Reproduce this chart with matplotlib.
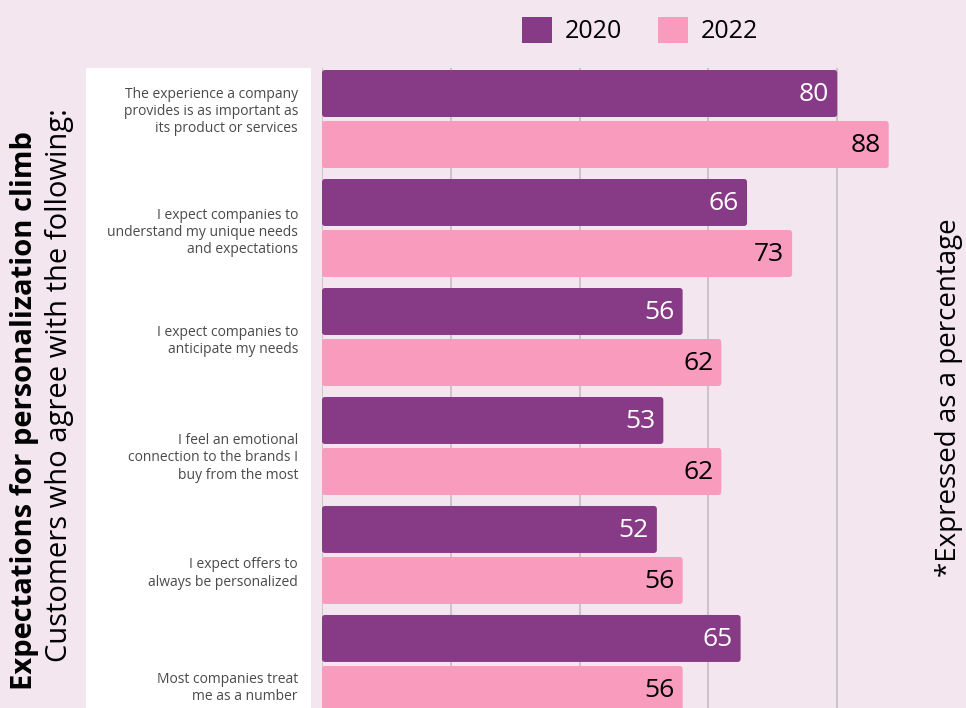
import matplotlib.pyplot as plt
from matplotlib.patches import Rectangle, FancyBboxPatch, Patch

# data
statements = [
    "The experience a company\nprovides is as important as\nits product or services",
    "I expect companies to\nunderstand my unique needs\nand expectations",
    "I expect companies to\nanticipate my needs",
    "I feel an emotional\nconnection to the brands I\nbuy from the most",
    "I expect offers to\nalways be personalized",
    "Most companies treat\nme as a number",
]
years = ["2020", "2022"]
values_2020 = [80, 66, 56, 53, 52, 65]
values_2022 = [88, 73, 62, 62, 56, 56]

# style
bg = "#F3E6EF"
c2020 = "#873A85"
c2022 = "#F99BBC"
label_shift = [-0.07, 0.04, 0.04, 0.11, 0.17, 0.22]  # labels sit a bit off centre in the original

plt.rcParams['font.family'] = ['Open Sans', 'DejaVu Sans']

fig = plt.figure(figsize=(9.66, 7.08), dpi=100, facecolor=bg)

# white panel behind the statements
fig.patches.append(Rectangle((86 / 966, 0), 225 / 966, 1 - 68 / 708,
                             transform=fig.transFigure, facecolor="white",
                             edgecolor="none", zorder=-1))

ax = fig.add_axes([322 / 966, 0, 644 / 966, 1 - 68 / 708])
ax.set_facecolor("none")
ax.set_xlim(0, 100)
ax.set_ylim(5.404, -0.468)
for s in ax.spines.values():
    s.set_visible(False)
ax.set_xticks([])
ax.set_yticks([])

for g in [0, 20, 40, 60, 80]:
    ax.axvline(g, color="#C6BDC3", lw=1.2, zorder=0)

h = 0.431
off = 0.234
ypos = list(range(len(statements)))
b1 = ax.barh([y - off for y in ypos], values_2020, height=h, alpha=0)
b2 = ax.barh([y + off for y in ypos], values_2022, height=h, alpha=0)

# rounded versions of the bars (same extents)
px_x = 644 / 100
px_y = (708 - 68) / (5.404 + 0.468)
for bars, col in [(b1, c2020), (b2, c2022)]:
    for r in bars:
        ax.add_patch(FancyBboxPatch((r.get_x(), r.get_y()), r.get_width(), r.get_height(),
                                    boxstyle="round,pad=0,rounding_size=0.45",
                                    mutation_aspect=px_x / px_y,
                                    facecolor=col, edgecolor="none", zorder=2))

for bars, vals, col in [(b1, values_2020, "white"), (b2, values_2022, "black")]:
    for r, v in zip(bars, vals):
        ax.annotate(str(v), (v, r.get_y() + r.get_height() / 2),
                    xytext=(-8, -1), textcoords="offset pixels",
                    ha="right", va="center", fontsize=19, color=col, zorder=3)

for y, txt, sh in zip(ypos, statements, label_shift):
    ax.text(-24 / px_x, y + sh, txt, ha="right", va="center", fontsize=10,
            color="#4a4a4a", linespacing=1.2, clip_on=False)

handles = [Patch(facecolor=c2020), Patch(facecolor=c2022)]
leg = fig.legend(handles=handles, labels=years, loc="upper left",
                 bbox_to_anchor=(522 / 966, 1 - 17 / 708), ncol=2, frameon=False,
                 fontsize=18, handlelength=1.2, handleheight=1.2,
                 columnspacing=1.45, handletextpad=0.5, borderpad=0, borderaxespad=0)

fig.text(25 / 966, 1 - 690 / 708, "Expectations for personalization climb",
         rotation=90, ha="center", va="bottom", fontsize=21, fontweight="bold",
         color="black")
fig.text(60 / 966, 1 - 662 / 708, "Customers who agree with the following:",
         rotation=90, ha="center", va="bottom", fontsize=21, color="black")
fig.text(949 / 966, 1 - 398 / 708, "*Expressed as a percentage",
         rotation=90, ha="center", va="center", fontsize=20, color="black")

fig.savefig("out.png", dpi=100, facecolor=bg)
